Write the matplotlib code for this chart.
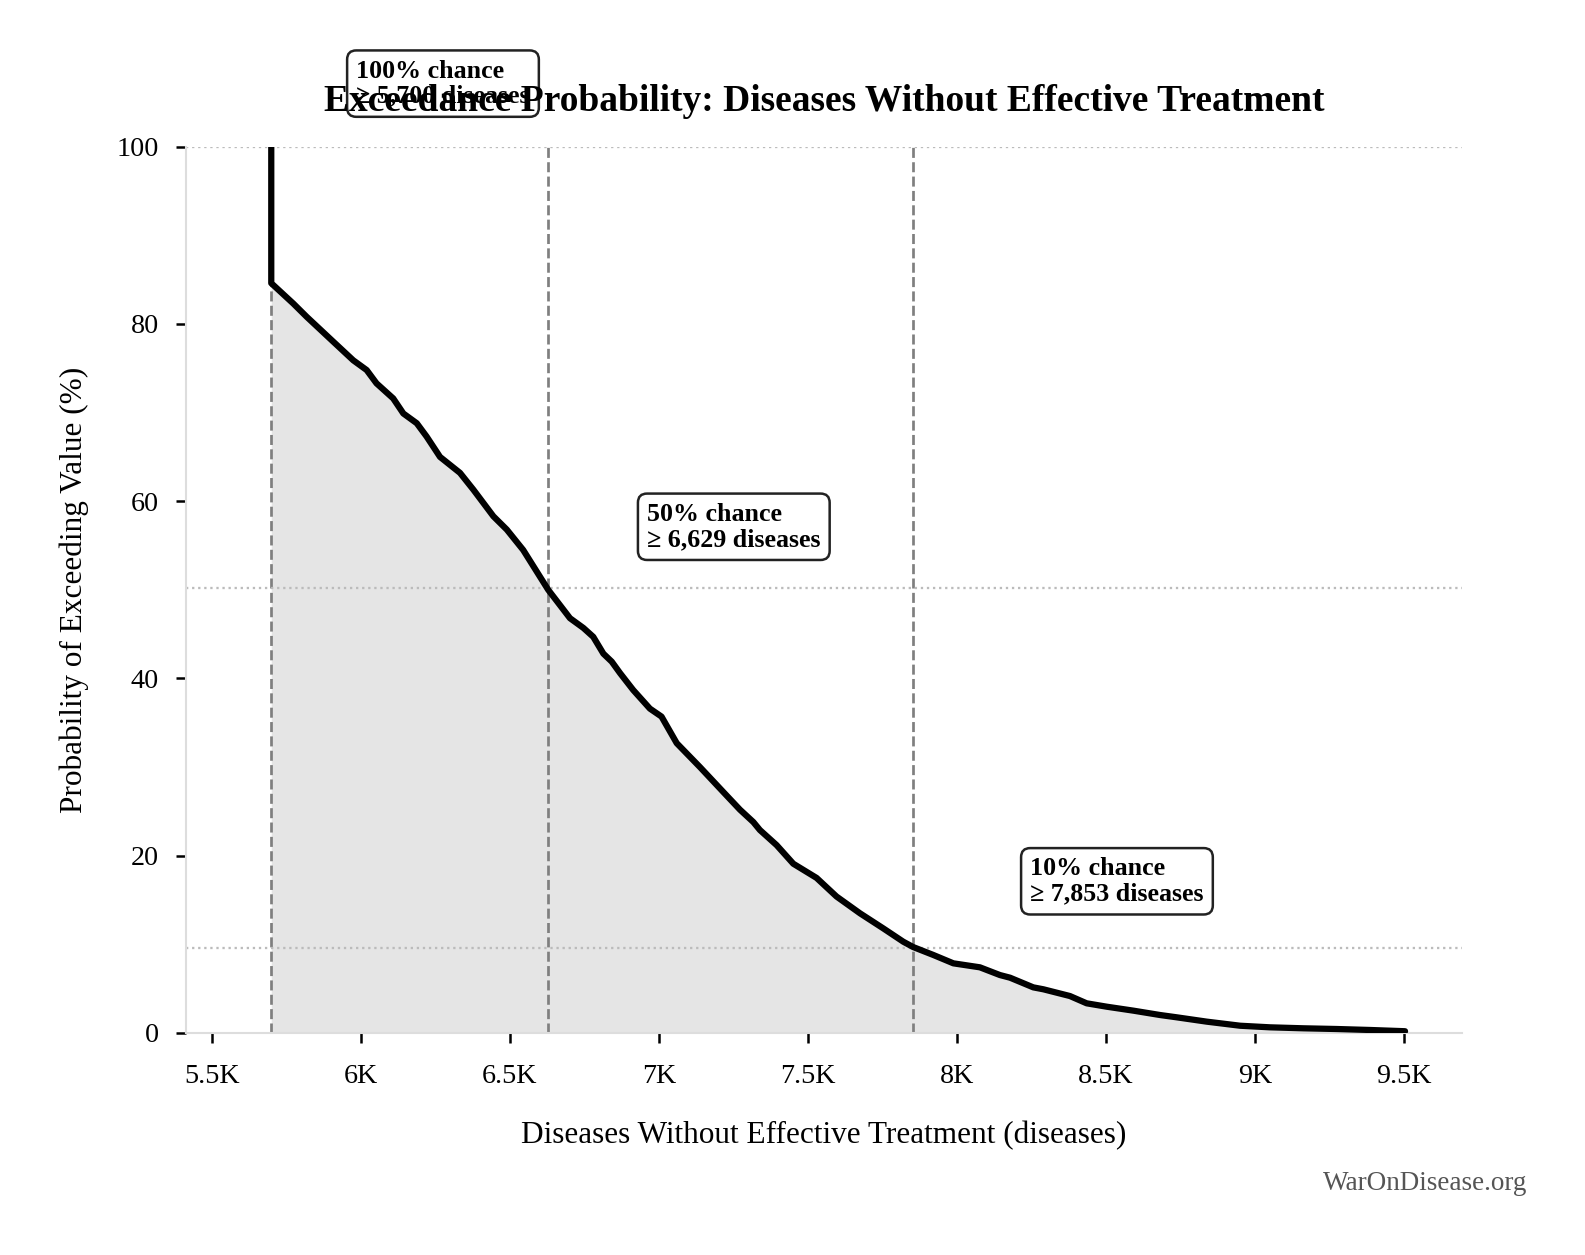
import numpy as np
import matplotlib
matplotlib.use('Agg')
import matplotlib.pyplot as plt
from matplotlib.ticker import FuncFormatter

plt.rcParams['font.family'] = ['Liberation Serif', 'DejaVu Serif']

# exceedance curve (diseases, % chance of exceeding)
diseases = [5700, 5700, 5774, 5819, 5908, 5975, 6020, 6053, 6109, 6143, 6188, 6221,
            6266, 6333, 6378, 6445, 6490, 6545, 6601, 6629, 6702, 6747, 6780, 6814,
            6842, 6870, 6914, 6970, 7009, 7060, 7138, 7216, 7272, 7317, 7339, 7395,
            7451, 7529, 7596, 7675, 7753, 7820, 7853, 7921, 7988, 8077, 8144, 8178,
            8256, 8290, 8379, 8435, 8502, 8592, 8681, 8737, 8838, 8950, 9050, 9162,
            9274, 9386, 9503]
exceed_pct = [100, 84.6, 82.3, 80.8, 78.0, 75.9, 74.8, 73.3, 71.6, 69.9, 68.8, 67.3,
              65.0, 63.2, 61.3, 58.3, 56.8, 54.5, 51.5, 50.0, 46.8, 45.7, 44.7, 42.8,
              41.9, 40.6, 38.7, 36.6, 35.7, 32.7, 30.0, 27.2, 25.2, 23.8, 22.9, 21.2,
              19.1, 17.5, 15.4, 13.5, 11.8, 10.3, 9.7, 8.8, 7.86, 7.41, 6.54, 6.24,
              5.15, 4.93, 4.17, 3.35, 2.97, 2.52, 2.03, 1.77, 1.28, 0.82, 0.64, 0.53,
              0.45, 0.34, 0.2]

# marked thresholds
thresh_pct = [100, 50, 10]
thresh_val = [5700, 6629, 7853]
thresh_line_pct = [100, 50.2, 9.6]

fig = plt.figure(figsize=(1585 / 150, 1255 / 150), dpi=150)
ax = fig.add_axes([186 / 1585, 1 - 1033 / 1255, (1462 - 186) / 1585, (1033 - 146.7) / 1255])

ax.fill_between(diseases, exceed_pct, 0, color='#e5e5e5', linewidth=0, zorder=1)

for v in thresh_val:
    ax.axvline(v, color='#7f7f7f', linestyle='--', linewidth=1.3, zorder=2)
for p in thresh_line_pct:
    ax.axhline(p, color='#bbbbbb', linestyle=':', linewidth=1.1, zorder=2)

ax.plot(diseases, exceed_pct, color='black', linewidth=3, zorder=3,
        solid_joinstyle='round', solid_capstyle='round')

for p, v in zip(thresh_pct, thresh_val):
    ax.text(v * 1.05, p + 4.4, f'{p}% chance\n≥ {v:,} diseases',
            ha='left', va='bottom', fontsize=12.5, fontweight='bold',
            linespacing=1.12, zorder=5, clip_on=False,
            bbox=dict(boxstyle='round,pad=0.35', facecolor='white',
                      edgecolor='#222222', linewidth=1.2))

ax.set_xlim(5414, 9694)
ax.set_ylim(0, 100)
ax.set_yticks([0, 20, 40, 60, 80, 100])
ax.set_xticks(np.arange(5500, 9501, 500))
ax.xaxis.set_major_formatter(FuncFormatter(lambda v, pos: f'{v / 1000:g}K'))
ax.tick_params(labelsize=13.5, length=5, width=1.2)
ax.tick_params(axis='x', pad=10)
ax.tick_params(axis='y', pad=8)

for s in ['top', 'right']:
    ax.spines[s].set_visible(False)
for s in ['left', 'bottom']:
    ax.spines[s].set_color('#dddddd')
    ax.spines[s].set_linewidth(1.0)

ax.set_title('Exceedance Probability: Diseases Without Effective Treatment',
             fontsize=18, fontweight='bold', pad=17)
ax.title.set_zorder(10)
ax.set_xlabel('Diseases Without Effective Treatment (diseases)', fontsize=15, labelpad=15)
ax.set_ylabel('Probability of Exceeding Value (%)', fontsize=15, labelpad=13)

fig.text(1527 / 1585, 1 - 1183 / 1255, 'WarOnDisease.org', ha='right', va='center',
         fontsize=13, color='#555555')

fig.savefig('out.png', dpi=150)
